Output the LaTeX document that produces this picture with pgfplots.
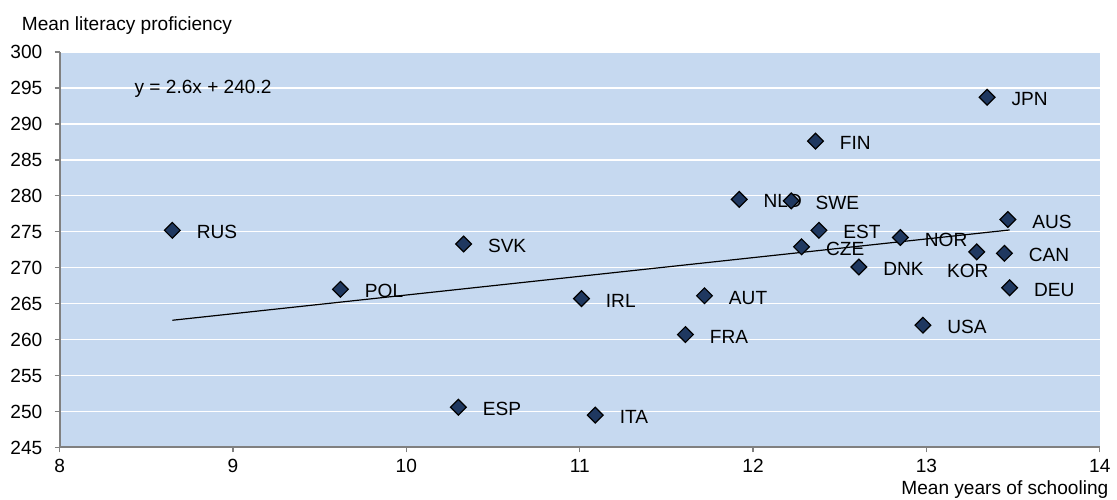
\documentclass[border=0pt]{standalone}
\usepackage{fontspec}
\setmainfont{Liberation Sans}
\usepackage{pgfplots}
\usepackage{pgfplotstable}
\pgfplotsset{compat=1.18}
\definecolor{plotbg}{RGB}{198,217,240}
\definecolor{navy}{RGB}{31,56,96}
\definecolor{axisgray}{RGB}{128,128,128}
\newcommand{\cf}{\fontsize{9.6}{11.5}\selectfont}

% country, mean years of schooling, mean literacy score, label offset (pt)
\pgfplotstableread{
label x     y     dx    dy
RUS   8.65  275.2 12    -1
POL   9.62  267.0 12    -1
SVK   10.33 273.3 12    -1
ESP   10.30 250.6 12    -1
IRL   11.01 265.7 12    -1
ITA   11.09 249.5 12    -1
FRA   11.61 260.7 12    -1
AUT   11.72 266.1 12    -1
NLD   11.92 279.5 12    -1
SWE   12.22 279.3 12    -1
CZE   12.28 272.9 12    -1
FIN   12.36 287.6 12    -1
EST   12.38 275.2 12    -1
DNK   12.61 270.1 12    -1
NOR   12.85 274.2 12    -1
USA   12.98 262.0 12    -1
KOR   13.29 272.2 -15.2 -9.5
JPN   13.35 293.7 12    -1
CAN   13.45 272.0 12    -1
AUS   13.47 276.7 12    -1
DEU   13.48 267.2 12    -1
}\countries

\begin{document}
\begin{tikzpicture}[font=\cf]
\begin{axis}[
  scale only axis,
  width=523pt,
  height=198.85pt,
  xmin=8, xmax=14,
  ymin=245, ymax=300,
  xtick={8,...,14},
  ytick={245,250,...,300},
  axis x line*=bottom,
  axis y line*=left,
  axis line style={axisgray, line width=1pt},
  tick style={axisgray, line width=0.7pt},
  tick align=outside,
  major tick length=2.5pt,
  axis background/.style={fill=plotbg},
  ymajorgrids,
  grid style={white, line width=0.7pt},
  clip=false,
  tick label style={font=\cf},
  /pgf/number format/assume math mode=true,
  yticklabel style={xshift=-2.7pt},
]
\addplot[black, line width=0.6pt] coordinates {(8.65,262.69) (13.48,275.25)};

\addplot[only marks, mark=square*, mark size=2.8pt,
  mark options={rotate=45, fill=navy, draw=black, line width=0.6pt},
  nodes near coords, point meta=explicit symbolic,
  visualization depends on={\thisrow{dx}\as\dx},
  visualization depends on={\thisrow{dy}\as\dy},
  nodes near coords style={anchor=west, inner sep=0pt, xshift=\dx pt,
    yshift=\dy pt, font=\cf, text=black}]
  table[x=x, y=y, meta=label] {\countries};

\node[anchor=base west, inner sep=0pt] at (axis cs:8.43,294.2) {y = 2.6x + 240.2};
\node[anchor=base west, inner sep=0pt] at ([xshift=-19.2pt, yshift=10.65pt]rel axis cs:0,1) {Mean literacy proficiency};
\node[anchor=base east, inner sep=0pt] at ([xshift=4.5pt, yshift=-23.65pt]rel axis cs:1,0) {Mean years of schooling};
\path ([xshift=-30pt, yshift=-26pt]rel axis cs:0,0) rectangle ([xshift=5.5pt, yshift=26.15pt]rel axis cs:1,1);
\end{axis}
\end{tikzpicture}
\end{document}
